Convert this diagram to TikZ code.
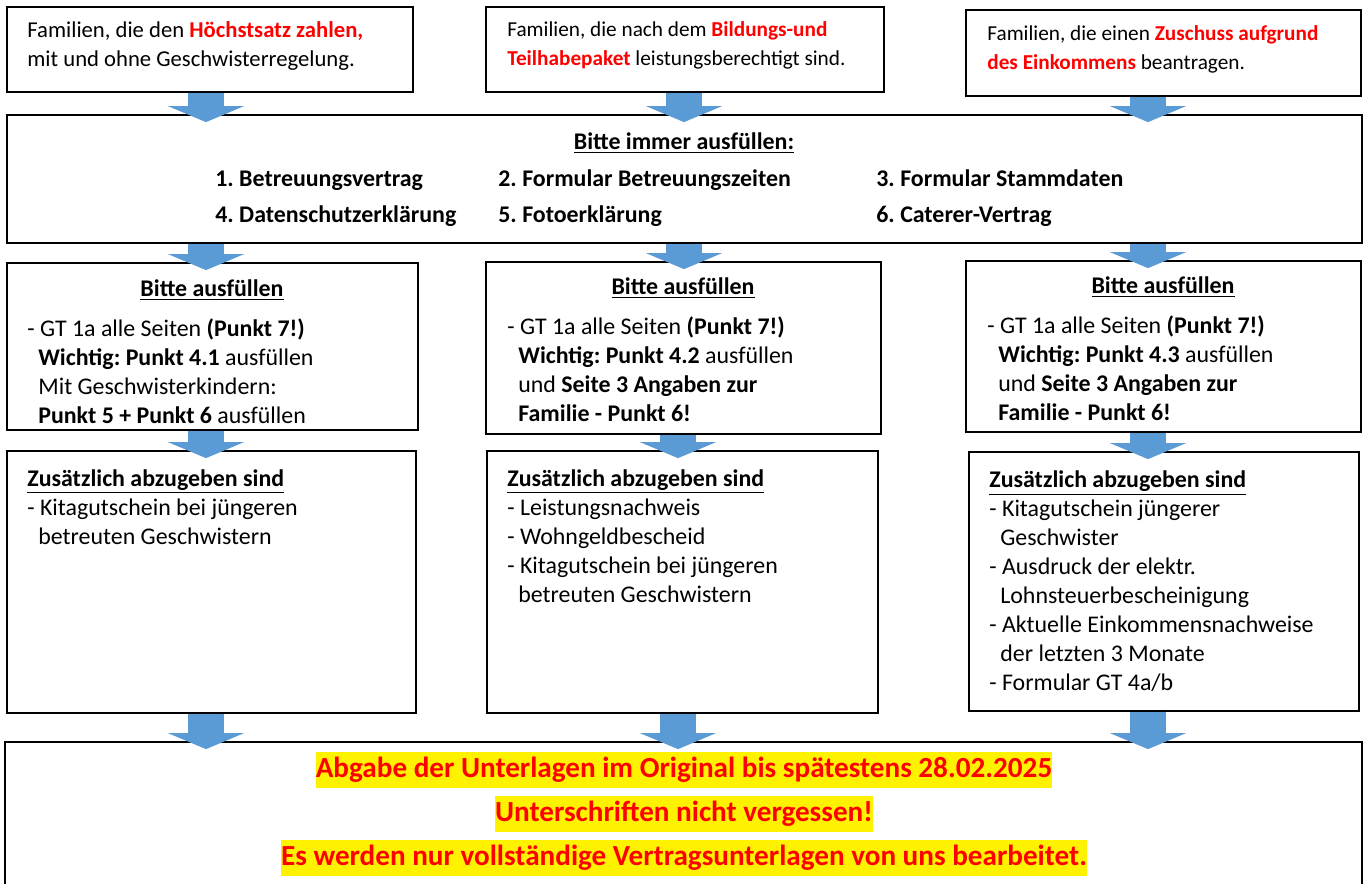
\documentclass[tikz,border=0pt]{standalone}
\usepackage{fontspec}
\setmainfont{Carlito}
\usepackage{xcolor}
\usetikzlibrary{arrows.meta, positioning, fit}

\definecolor{arrowblue}{HTML}{5B9BD5}
\definecolor{alertred}{HTML}{FF0000}
\newcommand{\alertword}[1]{\textcolor{alertred}{\textbf{#1}}}
\newcommand{\marker}[1]{{\setlength{\fboxsep}{0pt}\colorbox{yellow}{\rule[-6pt]{0pt}{20.5pt}#1}}}
\frenchspacing

\begin{document}
\begin{tikzpicture}[
        x=0.02cm, y=-0.02cm,
        % Node styles
        box/.style={rectangle, draw=black, line width=1pt, inner sep=0pt},
        toptext/.style={anchor=west, align=left, inner sep=0pt, font=\fontsize{12.1}{16.5}\selectfont},
        textblock/.style={anchor=west, align=left, inner sep=0pt, font=\fontsize{13.6}{16.5}\selectfont},
        heading/.style={inner sep=0pt, font=\fontsize{13.6}{16.5}\selectfont\bfseries},
        alert/.style={align=center, inner sep=0pt, text=alertred, font=\fontsize{16.6}{25}\selectfont\bfseries},
        arrow/.style={draw=arrowblue, line width=0.72cm, -{Triangle[length=0.32cm, width=1.52cm, line width=0pt]}, shorten >=-0.16cm}
    ]
        \useasboundingbox (0,0) rectangle (1366,883);

        % Columns of the arrows
        \coordinate (col1) at (206,0);
        \coordinate (col2) at (684,0);
        \coordinate (col2low) at (678,0);
        \coordinate (col3) at (1148,0);

        % Top row: the three groups of families
        \node[box, fit={(7,7) (413,92)}] (rate) {};
        \node[box, fit={(486,7) (884,92)}] (butpaket) {};
        \node[box, fit={(966,10) (1361,96)}] (income) {};
        \node[toptext, font=\fontsize{12.9}{16.5}\selectfont] (ratetext) at (27,46) {Familien, die den \alertword{Höchstsatz zahlen,}\\mit und ohne Geschwisterregelung.};
        \node[toptext] (buttext) at (507,45) {Familien, die nach dem \alertword{Bildungs-und}\\\alertword{Teilhabepaket} leistungsberechtigt sind.};
        \node[toptext] (incometext) at (987,49) {Familien, die einen \alertword{Zuschuss aufgrund}\\\alertword{des Einkommens} beantragen.};

        % Forms for everybody
        \node[box, fit={(7,115) (1362,243)}] (always) {};
        \node[heading] (alwayshead) at (684,143) {\underline{Bitte immer ausfüllen:}};
        \node[heading, anchor=base west] (form1) at (215,186) {1. Betreuungsvertrag};
        \node[heading, anchor=base west] (form2) at (498,186) {2. Formular Betreuungszeiten};
        \node[heading, anchor=base west] (form3) at (876,186) {3. Formular Stammdaten};
        \node[heading, anchor=base west] (form4) at (215,222) {4. Datenschutzerklärung};
        \node[heading, anchor=base west] (form5) at (498,222) {5. Fotoerklärung};
        \node[heading, anchor=base west] (form6) at (876,222) {6. Caterer-Vertrag};

        % GT 1a boxes
        \node[box, fit={(7,263) (418,430)}] (fillrate) {};
        \node[box, fit={(486,262) (881,434)}] (fillbut) {};
        \node[box, fit={(966,261) (1361,432)}] (fillincome) {};
        \node[heading] (fillratehead) at (212,290) {\underline{Bitte ausfüllen}};
        \node[heading] (fillbuthead) at (683,288) {\underline{Bitte ausfüllen}};
        \node[heading] (fillincomehead) at (1163,287) {\underline{Bitte ausfüllen}};
        \node[textblock] (fillratetext) at (27,371) {- GT 1a alle Seiten \textbf{(Punkt 7!)}\\
            \hspace*{0.22cm}\textbf{Wichtig: Punkt 4.1} ausfüllen\\
            \hspace*{0.22cm}Mit Geschwisterkindern:\\
            \hspace*{0.22cm}\textbf{Punkt 5 + Punkt 6} ausfüllen};
        \node[textblock] (fillbuttext) at (507,369) {- GT 1a alle Seiten \textbf{(Punkt 7!)}\\
            \hspace*{0.22cm}\textbf{Wichtig: Punkt 4.2} ausfüllen\\
            \hspace*{0.22cm}und \textbf{Seite 3 Angaben zur}\\
            \hspace*{0.22cm}\textbf{Familie - Punkt 6!}};
        \node[textblock] (fillincometext) at (987,368) {- GT 1a alle Seiten \textbf{(Punkt 7!)}\\
            \hspace*{0.22cm}\textbf{Wichtig: Punkt 4.3} ausfüllen\\
            \hspace*{0.22cm}und \textbf{Seite 3 Angaben zur}\\
            \hspace*{0.22cm}\textbf{Familie - Punkt 6!}};

        % Additional documents
        \node[box, fit={(7,451) (416,713)}] (extrarate) {};
        \node[box, fit={(487,451) (878,713)}] (extrabut) {};
        \node[box, fit={(969,452) (1359,711)}] (extraincome) {};
        \node[textblock] (extraratetext) at (27,507) {\textbf{\underline{Zusätzlich abzugeben sind}}\\
            - Kitagutschein bei jüngeren\\
            \hspace*{0.22cm}betreuten Geschwistern};
        \node[textblock] (extrabuttext) at (507,536) {\textbf{\underline{Zusätzlich abzugeben sind}}\\
            - Leistungsnachweis\\
            - Wohngeldbescheid\\
            - Kitagutschein bei jüngeren\\
            \hspace*{0.22cm}betreuten Geschwistern};
        \node[textblock] (extraincometext) at (989,581) {\textbf{\underline{Zusätzlich abzugeben sind}}\\
            - Kitagutschein jüngerer\\
            \hspace*{0.22cm}Geschwister\\
            - Ausdruck der elektr.\\
            \hspace*{0.22cm}Lohnsteuerbescheinigung\\
            - Aktuelle Einkommensnachweise\\
            \hspace*{0.22cm}der letzten 3 Monate\\
            - Formular GT 4a/b};

        % Deadline box
        \node[box, fit={(5,742) (1362,900)}] (deadline) {};
        \node[alert] (deadlinetext) at (684,814) {\marker{Abgabe der Unterlagen im Original bis spätestens 28.02.2025}\\
            \marker{Unterschriften nicht vergessen!}\\
            \marker{Es werden nur vollständige Vertragsunterlagen von uns bearbeitet.}};

        % Arrows into the common box
        \draw[arrow] (col1 |- rate.south) -- (col1 |- always.north);
        \draw[arrow] (col2 |- butpaket.south) -- (col2 |- always.north);
        \draw[arrow] (col3 |- income.south) -- (col3 |- always.north);

        % Arrows to the GT 1a boxes
        \draw[arrow] (col1 |- always.south) -- (col1 |- fillrate.north);
        \draw[arrow] (col2 |- always.south) -- (col2 |- fillbut.north);
        \draw[arrow] (col3 |- always.south) -- (col3 |- fillincome.north);

        % Arrows to the additional documents
        \draw[arrow] (col1 |- fillrate.south) -- (col1 |- extrarate.north);
        \draw[arrow] (col2low |- fillbut.south) -- (col2low |- extrabut.north);
        \draw[arrow] (col3 |- fillincome.south) -- (col3 |- extraincome.north);

        % Arrows to the deadline
        \draw[arrow] (col1 |- extrarate.south) -- (col1 |- deadline.north);
        \draw[arrow] (col2low |- extrabut.south) -- (col2low |- deadline.north);
        \draw[arrow] (col3 |- extraincome.south) -- (col3 |- deadline.north);
    \end{tikzpicture}
\end{document}
